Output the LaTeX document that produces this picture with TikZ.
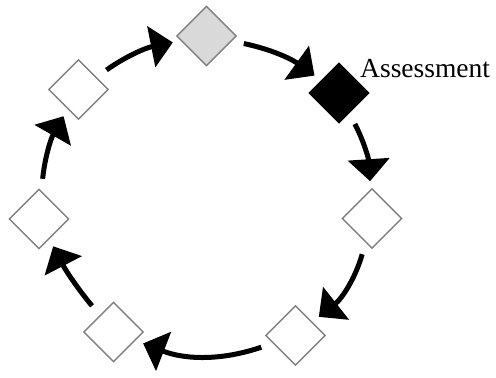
\documentclass[tikz,border=0pt]{standalone}
\usepackage{tikz}
\usepackage{fontspec}
\usetikzlibrary{shapes.geometric,arrows.meta}
\newfontfamily\labelfont{Liberation Serif}
\definecolor{rim}{RGB}{128, 128, 128}
\definecolor{shade}{RGB}{217, 217, 217}

\begin{document}
\begin{tikzpicture}[x=1pt, y=1pt,
        stage/.style={diamond, draw=rim, line width=1.4pt, fill=white,
          minimum width=60pt, minimum height=60pt, inner sep=0pt},
        flow/.style={-{Triangle[length=22pt,width=41pt]}, line width=5pt,
          shorten <=12pt, shorten >=8pt}]
        \useasboundingbox (0,0) rectangle (496,378);

        % stages round the cycle
        \node[stage, fill=shade] (top) at (206.5,342) {};
        \node[stage, draw=black, fill=black] (assess) at (339,285) {};
        \node[stage] (right) at (372,159.5) {};
        \node[stage] (lowright) at (295.5,42.5) {};
        \node[stage] (lowleft) at (113.5,46) {};
        \node[stage] (left) at (39,159) {};
        \node[stage] (upleft) at (78.5,288.5) {};

        \node[anchor=base west, font=\labelfont\fontsize{27.5}{32}\selectfont, inner sep=0pt]
          (label) at (360,300) {Assessment};

        % arrows, clockwise
        \draw[flow] (upleft) to[bend left=12] (top);
        \draw[flow] (top) to[bend left=12] (assess);
        \draw[flow] (assess) to[bend left=12] (right);
        \draw[flow] (right) to[bend left=18] (lowright);
        \draw[flow] (lowright) to[bend left=20] (lowleft);
        \draw[flow] (lowleft) to[bend left=6] (left);
        \draw[flow] (left) to[bend left=12] (upleft);
\end{tikzpicture}
\end{document}
